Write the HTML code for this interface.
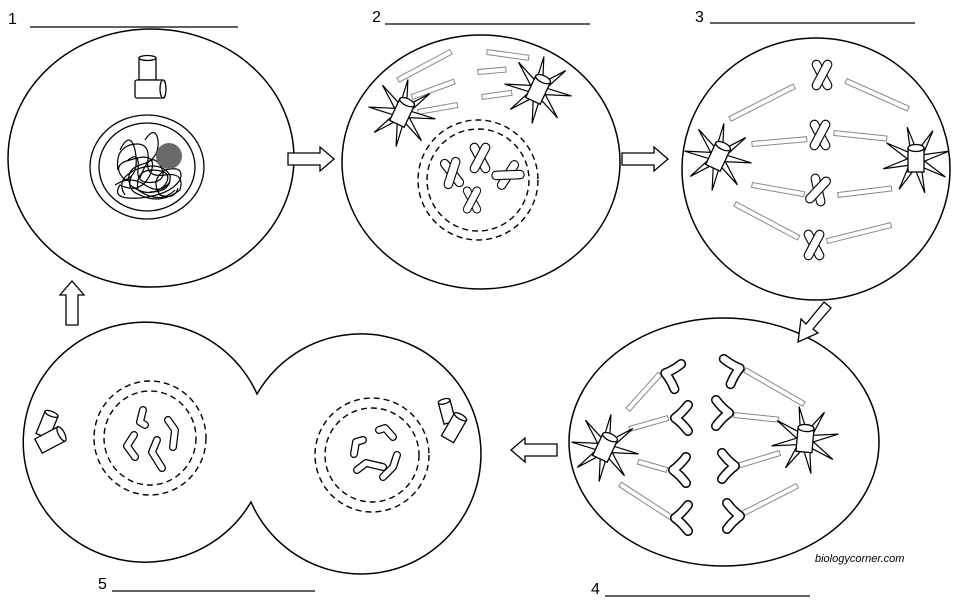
<!DOCTYPE html>
<html><head><meta charset="utf-8"><style>
html,body{margin:0;padding:0;background:#fff;}
svg{display:block;}
text{font-family:"Liberation Sans",sans-serif;}
</style></head><body>
<svg width="960" height="606" viewBox="0 0 960 606" xmlns="http://www.w3.org/2000/svg">
<defs>
<g id="star">
<polygon points="34,0 8,3.3 24,24 3.3,8 0,34 -3.3,8 -24,24 -8,3.3 -34,0 -8,-3.3 -24,-24 -3.3,-8 0,-34 3.3,-8 24,-24 8,-3.3" fill="#fff" stroke="#000" stroke-width="1.2" transform="rotate(10)"/>
<g transform="rotate(25)"><rect x="-8" y="-12" width="16" height="24" fill="#fff" stroke="#000" stroke-width="1.3"/><ellipse cx="0" cy="-12" rx="8" ry="3.5" fill="#fff" stroke="#000" stroke-width="1.3"/></g>
</g>
<g id="xc" fill="#fff" stroke="#000" stroke-width="1.3">
<rect x="-5" y="-19" width="10" height="38" rx="5" transform="rotate(-28)"/>
<rect x="-5" y="-19" width="10" height="38" rx="5" transform="rotate(28)"/>
</g>
<path id="v" d="M6,-13 Q0,-5 -7,0 Q0,5 6,13" fill="none" stroke="#000" stroke-width="10" stroke-linecap="round" stroke-linejoin="round"/>
<path id="vw" d="M6,-13 Q0,-5 -7,0 Q0,5 6,13" fill="none" stroke="#fff" stroke-width="7" stroke-linecap="round" stroke-linejoin="round"/>
</defs>
<g fill="none" stroke="#000" stroke-width="1.5">
<ellipse cx="151" cy="158" rx="143" ry="129" fill="#fff"/>
<ellipse cx="481" cy="162" rx="139" ry="127"/>
<ellipse cx="816" cy="169" rx="134" ry="131"/>
<ellipse cx="724" cy="442" rx="155" ry="124"/>
<path d="M257,394 A122,120 0 1,0 251,502 A120,120 0 1,0 257,394 Z"/>
</g>
<g font-size="16">
<text x="8" y="24">1</text><text x="372" y="22">2</text><text x="695" y="22">3</text>
<text x="591" y="594">4</text><text x="98" y="589">5</text>
</g>
<g stroke="#000" stroke-width="1.3">
<line x1="30" y1="27" x2="238" y2="27"/><line x1="385" y1="24" x2="590" y2="24"/>
<line x1="710" y1="23" x2="915" y2="23"/><line x1="605" y1="596" x2="810" y2="596"/>
<line x1="112" y1="591" x2="315" y2="591"/>
</g>
<text x="815" y="562" font-size="11" font-style="italic">biologycorner.com</text>
<g fill="#fff" stroke="#000" stroke-width="1.3">
<polygon points="288,153 320,153 320,147 334,159 320,171 320,165 288,165"/>
<polygon points="622,153 654,153 654,147 668,159 654,171 654,165 622,165"/>
<polygon points="557,444 525,444 525,438 511,450 525,462 525,456 557,456"/>
<polygon points="66,325 66,295 60,295 72,281 84,295 78,295 78,325"/>
<polygon points="824,302 806,324 801,319 798,342 818,333 813,329 831,308"/>
</g>
<g fill="#fff" stroke="#000" stroke-width="1.3">
<rect x="139" y="58" width="17" height="22"/><ellipse cx="147.5" cy="58" rx="8.5" ry="2.5"/>
<rect x="135" y="80" width="30" height="18" rx="2"/><ellipse cx="163" cy="89" rx="3" ry="9"/>
<ellipse cx="147" cy="167" rx="57" ry="52"/><ellipse cx="147" cy="167" rx="48" ry="44"/>
</g>
<g fill="none" stroke="#000" stroke-width="1.2">
<path d="M120,150 Q130,130 135,150 Q140,175 125,180 Q110,165 130,160 Q160,150 150,175 Q140,195 120,185 Q110,200 140,198 Q170,195 180,180 Q185,165 165,170 Q150,180 160,195 Q175,200 178,188"/>
<path d="M145,140 Q155,125 158,140 Q160,160 140,165 Q125,170 130,185 Q150,200 165,185 Q175,170 150,170 Q135,172 138,190 Q160,205 175,190"/>
<path d="M118,170 Q115,150 130,145 Q150,140 148,160 Q145,178 165,175 Q185,172 180,190 Q160,205 140,195 Q125,190 132,175"/>
<path d="M125,195 Q115,180 135,170 Q160,160 170,175 Q172,192 150,192"/>
<path d="M128,160 Q140,150 138,170 Q136,185 155,182 Q168,178 160,165 Q150,150 140,178"/>
<path d="M115,185 Q130,175 145,185 Q160,195 170,182"/>
</g>
<circle cx="169" cy="156" r="13" fill="#6a6a6a"/>
<g fill="#fff" stroke="#888" stroke-width="1">
<rect x="0" y="-2.5" width="60" height="5" transform="translate(398,80) rotate(-28)"/>
<rect x="0" y="-2.5" width="45" height="5" transform="translate(412,97) rotate(-20)"/>
<rect x="0" y="-2.5" width="40" height="5" transform="translate(418,112) rotate(-10)"/>
<rect x="0" y="-2.5" width="42" height="5" transform="translate(487,52) rotate(8)"/>
<rect x="0" y="-2.5" width="28" height="5" transform="translate(478,72) rotate(-5)"/>
<rect x="0" y="-2.5" width="30" height="5" transform="translate(482,97) rotate(-8)"/>
<rect x="0" y="-2.5" width="72" height="5" transform="translate(730,119) rotate(-27)"/>
<rect x="0" y="-2.5" width="55" height="5" transform="translate(752,144) rotate(-5)"/>
<rect x="0" y="-2.5" width="53" height="5" transform="translate(752,185) rotate(10)"/>
<rect x="0" y="-2.5" width="72" height="5" transform="translate(735,204) rotate(28)"/>
<rect x="0" y="-2.5" width="68" height="5" transform="translate(846,81) rotate(24)"/>
<rect x="0" y="-2.5" width="53" height="5" transform="translate(834,133) rotate(6)"/>
<rect x="0" y="-2.5" width="54" height="5" transform="translate(838,195) rotate(-7)"/>
<rect x="0" y="-2.5" width="66" height="5" transform="translate(827,241) rotate(-14)"/>
<rect x="0" y="-2.5" width="48" height="5" transform="translate(660,374) rotate(132)"/>
<rect x="0" y="-2.5" width="40" height="5" transform="translate(668,418) rotate(164)"/>
<rect x="0" y="-2.5" width="30" height="5" transform="translate(667,470) rotate(196)"/>
<rect x="0" y="-2.5" width="62" height="5" transform="translate(672,518) rotate(213)"/>
<rect x="0" y="-2.5" width="68" height="5" transform="translate(745,370) rotate(30)"/>
<rect x="0" y="-2.5" width="45" height="5" transform="translate(734,415) rotate(6)"/>
<rect x="0" y="-2.5" width="48" height="5" transform="translate(734,467) rotate(-17)"/>
<rect x="0" y="-2.5" width="62" height="5" transform="translate(742,514) rotate(-27)"/>
</g>
<use href="#star" transform="translate(402,113)"/>
<use href="#star" transform="translate(538,90)"/>
<g fill="none" stroke="#000" stroke-width="1.4" stroke-dasharray="6,4">
<circle cx="478" cy="180" r="60"/><circle cx="478" cy="180" r="51"/>
</g>
<use href="#xc" transform="translate(452,173) rotate(-10) scale(0.85)"/>
<use href="#xc" transform="translate(480,158) scale(0.85)"/>
<use href="#xc" transform="translate(508,175) rotate(60) scale(0.85)"/>
<use href="#xc" transform="translate(472,200) scale(0.75)"/>
<use href="#star" transform="translate(718,157)"/>
<use href="#star" transform="translate(916,160) rotate(-25)"/>
<use href="#xc" transform="translate(822,75) scale(0.85)"/>
<use href="#xc" transform="translate(820,135) scale(0.85)"/>
<use href="#xc" transform="translate(818,190) rotate(15) scale(0.85)"/>
<use href="#xc" transform="translate(814,245) scale(0.85)"/>
<use href="#star" transform="translate(605,448)"/>
<use href="#star" transform="translate(805,440) rotate(-20)"/>
<g>
<use href="#v" transform="translate(672,375) rotate(15)"/><use href="#vw" transform="translate(672,375) rotate(15)"/>
<use href="#v" transform="translate(682,418)"/><use href="#vw" transform="translate(682,418)"/>
<use href="#v" transform="translate(680,470)"/><use href="#vw" transform="translate(680,470)"/>
<use href="#v" transform="translate(682,518)"/><use href="#vw" transform="translate(682,518)"/>
<use href="#v" transform="translate(733,370) scale(-1,1) rotate(15)"/><use href="#vw" transform="translate(733,370) scale(-1,1) rotate(15)"/>
<use href="#v" transform="translate(722,413) scale(-1,1)"/><use href="#vw" transform="translate(722,413) scale(-1,1)"/>
<use href="#v" transform="translate(728,466) scale(-1,1)"/><use href="#vw" transform="translate(728,466) scale(-1,1)"/>
<use href="#v" transform="translate(733,516) scale(-1,1)"/><use href="#vw" transform="translate(733,516) scale(-1,1)"/>
</g>
<g fill="none" stroke="#000" stroke-width="1.4" stroke-dasharray="6,4">
<ellipse cx="150" cy="438" rx="56" ry="57"/><ellipse cx="150" cy="438" rx="46" ry="47"/>
<circle cx="372" cy="455" r="57"/><circle cx="372" cy="455" r="47"/>
</g>
<g fill="none" stroke="#000" stroke-width="8" stroke-linecap="round" stroke-linejoin="round">
<path d="M143,410 L140,422 L145,425"/><path d="M168,420 L175,430 L173,447"/>
<path d="M134,435 L127,446 L135,457"/><path d="M157,440 L152,452 L162,468"/>
<path d="M363,440 L356,442 L354,454"/><path d="M379,430 L385,428 L393,437"/>
<path d="M357,470 L366,463 L383,467"/><path d="M397,455 L393,467 L383,477"/>
</g>
<g fill="none" stroke="#fff" stroke-width="5.5" stroke-linecap="round" stroke-linejoin="round">
<path d="M143,410 L140,422 L145,425"/><path d="M168,420 L175,430 L173,447"/>
<path d="M134,435 L127,446 L135,457"/><path d="M157,440 L152,452 L162,468"/>
<path d="M363,440 L356,442 L354,454"/><path d="M379,430 L385,428 L393,437"/>
<path d="M357,470 L366,463 L383,467"/><path d="M397,455 L393,467 L383,477"/>
</g>
<g fill="#fff" stroke="#000" stroke-width="1.3">
<g transform="translate(47,425) rotate(22)"><rect x="-7" y="-12" width="14" height="24"/><ellipse cx="0" cy="-12" rx="7" ry="2.5"/></g>
<g transform="translate(50,440) rotate(-28)"><rect x="-13" y="-8" width="26" height="16"/><ellipse cx="13" cy="0" rx="3" ry="8"/></g>
<g transform="translate(447,412) rotate(-15)"><rect x="-6" y="-11" width="12" height="22"/><ellipse cx="0" cy="-11" rx="6" ry="2.5"/></g>
<g transform="translate(454,428) rotate(30)"><rect x="-7" y="-13" width="14" height="26"/><ellipse cx="0" cy="-13" rx="7" ry="2.5"/></g>
</g>
</svg>
</body></html>
